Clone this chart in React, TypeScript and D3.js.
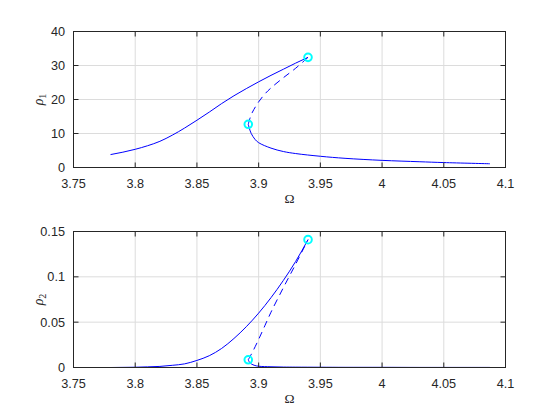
import React from "react";
import * as d3 from "d3";

// frequency values (Omega) and amplitudes
const upperW = [3.78, 3.8, 3.81, 3.82, 3.83, 3.84, 3.85, 3.86, 3.87, 3.88, 3.89, 3.9, 3.91, 3.92, 3.93, 3.94];
const upperRho1 = [3.8, 5.35, 6.4, 7.7, 9.5, 11.6, 13.9, 16.3, 18.8, 21.1, 23.2, 25.2, 27.1, 28.9, 30.7, 32.4];
const upperRho2 = [0, 0.0003, 0.0007, 0.0012, 0.0024, 0.004, 0.0078, 0.013, 0.021, 0.032, 0.045, 0.06, 0.077, 0.096, 0.117, 0.141];

const unstW = [3.8916, 3.893, 3.895, 3.9, 3.905, 3.91, 3.92, 3.93, 3.94];
const unstRho1 = [12.7, 14.5, 16.3, 19.3, 21.6, 23.4, 26.4, 29.2, 32.4];
const unstRho2 = [0.0085, 0.012, 0.017, 0.031, 0.046, 0.061, 0.088, 0.114, 0.141];

const lowerW = [3.8916, 3.8925, 3.894, 3.897, 3.9, 3.91, 3.92, 3.93, 3.95, 3.97, 4.0, 4.03, 4.05, 4.0874];
const lowerRho1 = [12.7, 11.5, 10, 8.3, 7.3, 5.7, 4.7, 4.1, 3.3, 2.7, 2.1, 1.7, 1.45, 1.1];
const lowerRho2 = [0.0085, 0.006, 0.004, 0.0022, 0.0014, 0.0008, 0.0005, 0.0004, 0.0003, 0.0002, 0.0002, 0.0001, 0.0001, 0.0001];

// saddle-node points
const foldW = [3.8916, 3.94];
const foldRho1 = [12.7, 32.4];
const foldRho2 = [0.0085, 0.141];

const xTicks = [3.75, 3.8, 3.85, 3.9, 3.95, 4, 4.05, 4.1];
const yTicks1 = [0, 10, 20, 30, 40];
const yTicks2 = [0, 0.05, 0.1, 0.15];

const left = 73.5;
const right = 505.5;
const font = "'Liberation Sans', Arial, Helvetica, sans-serif";
const serif = "'Liberation Serif', 'Times New Roman', serif";

function Panel({ top, bottom, yMax, yTicks, sub, upper, unst, lower, fold }: any) {
  const x = d3.scaleLinear().domain([3.75, 4.1]).range([left, right]);
  const y = d3.scaleLinear().domain([0, yMax]).range([bottom, top]);
  const mk = (ws: number[], vs: number[], curve: any) =>
    d3.line<number>()
      .x((w) => x(w))
      .y((_, i) => y(vs[i]))
      .curve(curve)(ws) as string;
  const tick = 5;
  const axisCol = "#262626";
  const fs = 12.7;

  return (
    <g>
      {/* grid */}
      {xTicks.slice(1, -1).map((t) => (
        <line key={"gx" + t} x1={x(t)} x2={x(t)} y1={top} y2={bottom} stroke="#dcdcdc" strokeWidth={1} />
      ))}
      {yTicks.slice(1, -1).map((t: number) => (
        <line key={"gy" + t} x1={left} x2={right} y1={y(t)} y2={y(t)} stroke="#dcdcdc" strokeWidth={1} />
      ))}

      {/* curves */}
      <path d={mk(upper[0], upper[1], d3.curveMonotoneX)} fill="none" stroke="#0000ff" strokeWidth={1} />
      <path d={mk(lower[0], lower[1], d3.curveCatmullRom)} fill="none" stroke="#0000ff" strokeWidth={1} />
      <path d={mk(unst[0], unst[1], d3.curveCatmullRom)} fill="none" stroke="#0000ff" strokeWidth={1} strokeDasharray="7,5" />
      {fold[0].map((w: number, i: number) => (
        <circle key={"f" + i} cx={x(w)} cy={y(fold[1][i])} r={3.8} fill="none" stroke="#00ffff" strokeWidth={2} />
      ))}

      {/* box */}
      <rect x={left} y={top} width={right - left} height={bottom - top} fill="none" stroke={axisCol} strokeWidth={1} />
      {xTicks.map((t) => (
        <g key={"tx" + t}>
          <line x1={x(t)} x2={x(t)} y1={bottom} y2={bottom - tick} stroke={axisCol} />
          <line x1={x(t)} x2={x(t)} y1={top} y2={top + tick} stroke={axisCol} />
          <text x={x(t)} y={bottom + 20.5} textAnchor="middle" fontSize={fs} fontFamily={font} fill={axisCol}>
            {String(t)}
          </text>
        </g>
      ))}
      {yTicks.map((t: number) => (
        <g key={"ty" + t}>
          <line x1={left} x2={left + tick} y1={y(t)} y2={y(t)} stroke={axisCol} />
          <line x1={right} x2={right - tick} y1={y(t)} y2={y(t)} stroke={axisCol} />
          <text x={left - 8.5} y={y(t)} dy="0.36em" textAnchor="end" fontSize={fs} fontFamily={font} fill={axisCol}>
            {String(t)}
          </text>
        </g>
      ))}

      {/* labels */}
      <text x={(left + right) / 2} y={bottom + 35.5} textAnchor="middle" fontSize={13.5} fontFamily={serif} fill={axisCol}>
        Ω
      </text>
      <text
        transform={`translate(${left - 31},${(top + bottom) / 2}) rotate(-90)`}
        textAnchor="middle"
        fontSize={14}
        fontFamily={serif}
        fontStyle="italic"
        fill={axisCol}
      >
        ρ
        <tspan fontSize={10} fontStyle="normal" dy={3}>
          {sub}
        </tspan>
      </text>
    </g>
  );
}

export default function App() {
  return (
    <svg width={560} height={420} style={{ display: "block", position: "absolute", left: 0, top: 0, background: "#fff" }}>
      <rect width={560} height={420} fill="#fff" />
      <Panel
        top={31.5}
        bottom={167.5}
        yMax={40}
        yTicks={yTicks1}
        sub="1"
        upper={[upperW, upperRho1]}
        unst={[unstW, unstRho1]}
        lower={[lowerW, lowerRho1]}
        fold={[foldW, foldRho1]}
      />
      <Panel
        top={231.5}
        bottom={367.5}
        yMax={0.15}
        yTicks={yTicks2}
        sub="2"
        upper={[upperW, upperRho2]}
        unst={[unstW, unstRho2]}
        lower={[lowerW, lowerRho2]}
        fold={[foldW, foldRho2]}
      />
    </svg>
  );
}
